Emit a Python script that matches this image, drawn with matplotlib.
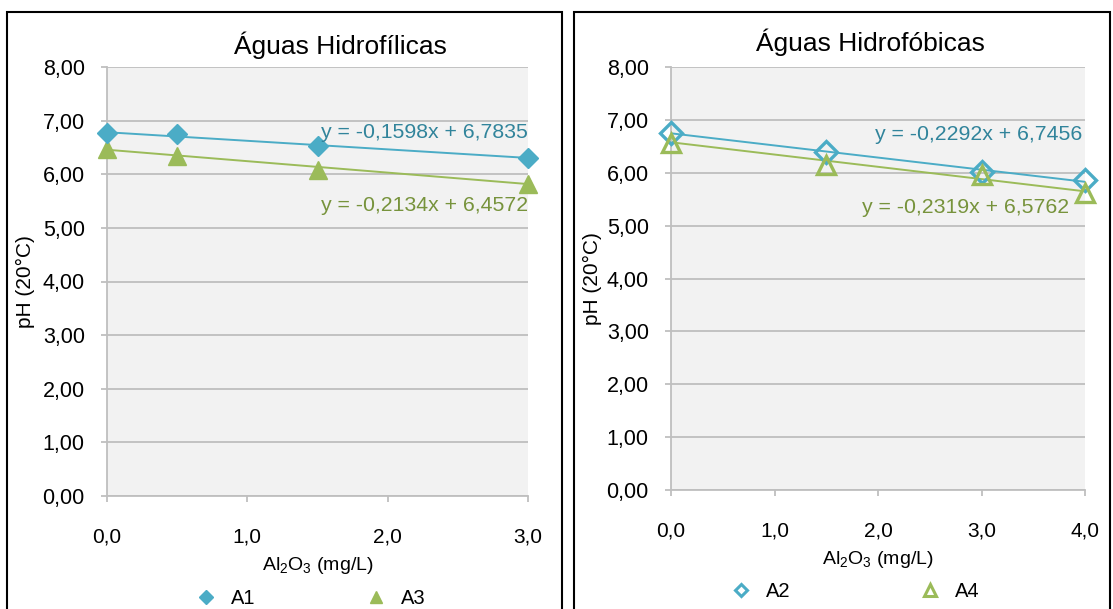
import matplotlib
matplotlib.use("Agg")
import matplotlib.pyplot as plt
from matplotlib.lines import Line2D
from matplotlib.patches import Rectangle
from matplotlib.ticker import FuncFormatter
import numpy as np

plt.rcParams["font.family"] = ["Liberation Sans", "DejaVu Sans"]
plt.rcParams["mathtext.fontset"] = "custom"
plt.rcParams["mathtext.rm"] = "Liberation Sans"
plt.rcParams["mathtext.it"] = "Liberation Sans:italic"

# data
hydrophilic_x = [0.0, 0.5, 1.5, 3.0]
a1 = [6.77, 6.75, 6.52, 6.31]
a3 = [6.47, 6.34, 6.08, 5.82]
a1_fit = (-0.1598, 6.7835)
a3_fit = (-0.2134, 6.4572)

hydrophobic_x = [0.0, 1.5, 3.0, 4.0]
a2 = [6.76, 6.39, 6.01, 5.87]
a4 = [6.57, 6.15, 5.96, 5.61]
a2_fit = (-0.2292, 6.7456)
a4_fit = (-0.2319, 6.5762)

BLUE = "#4BACC6"
GREEN = "#9BBB59"
BLUE_TXT = "#31849B"
GREEN_TXT = "#77933C"
GRID = "#BFBFBF"

W, H = 1113, 609
fig = plt.figure(figsize=(W / 100, H / 100), dpi=100)


def px_axes(x0, x1, y_top, y_bot):
    return fig.add_axes([x0 / W, 1 - y_bot / H, (x1 - x0) / W, (y_bot - y_top) / H])


def eq_text(fit):
    m, b = fit
    s = f"y = {m:.4f}x + {b:.4f}"
    return s.replace(".", ",")


def style(ax, xmax, ylabel_x):
    ax.set_facecolor("#F2F2F2")
    ax.set_xlim(0, xmax)
    ax.set_ylim(0, 8)
    ax.set_yticks(np.arange(0, 9, 1))
    ax.set_xticks(np.arange(0, xmax + 1, 1))
    ax.yaxis.set_major_formatter(FuncFormatter(lambda v, p: f"{v:.2f}".replace(".", ",")))
    ax.xaxis.set_major_formatter(FuncFormatter(lambda v, p: f"{v:.1f}".replace(".", ",")))
    ax.grid(axis="y", color=GRID, linewidth=1.3)
    ax.set_axisbelow(True)
    for s in ("top", "right"):
        ax.spines[s].set_visible(False)
    for s in ("left", "bottom"):
        ax.spines[s].set_color(GRID)
        ax.spines[s].set_linewidth(1.3)
    ax.tick_params(axis="y", length=4, color=GRID, width=1.3, pad=12, labelsize=15.5)
    ax.tick_params(axis="x", length=4, color=GRID, width=1.3, pad=19, labelsize=15)
    ax.set_xlabel(r"Al$_2$O$_3$ (mg/L)", fontsize=14, labelpad=6)
    ax.set_ylabel("pH (20°C)", fontsize=15)
    ax.yaxis.set_label_coords(ylabel_x, 0.5)


def trend(ax, fit, xmax, color):
    xs = np.array([0, xmax])
    ax.plot(xs, fit[0] * xs + fit[1], color=color, linewidth=1.4, zorder=2)


# left panel
ax1 = px_axes(107, 528, 67, 496)
style(ax1, 3, -0.17)
trend(ax1, a1_fit, 3, BLUE)
trend(ax1, a3_fit, 3, GREEN)
ax1.plot(hydrophilic_x, a3, linestyle="none", marker="^", ms=12.5, color=GREEN, clip_on=False, zorder=3)
ax1.plot(hydrophilic_x, a1, linestyle="none", marker="D", ms=10.5, color=BLUE, clip_on=False, zorder=4)
ax1.text(3.0, 6.77, eq_text(a1_fit), ha="right", va="center", fontsize=15.3, color=BLUE_TXT, zorder=5)
ax1.text(3.0, 5.41, eq_text(a3_fit), ha="right", va="center", fontsize=15.3, color=GREEN_TXT, zorder=5)
fig.text(340 / W, 1 - 45 / H, "Águas Hidrofílicas", ha="center", va="center", fontsize=19)
h1 = [Line2D([], [], linestyle="none", marker="D", ms=7, color=BLUE),
      Line2D([], [], linestyle="none", marker="^", ms=9, color=GREEN)]
ax1.legend(h1, ["A1", "A3"], loc="center", bbox_to_anchor=(0.484, -0.238), ncol=2,
           frameon=False, fontsize=14.5, handlelength=1.0, handletextpad=0.75, columnspacing=5.5)

# right panel
ax2 = px_axes(671, 1085, 67, 490)
style(ax2, 4, -0.166)
trend(ax2, a2_fit, 4, BLUE)
trend(ax2, a4_fit, 4, GREEN)
ax2.plot(hydrophobic_x, a2, linestyle="none", marker="D", ms=11.5, mfc="none", mec=BLUE, mew=2.4,
         clip_on=False, zorder=3)
ax2.plot(hydrophobic_x, a4, linestyle="none", marker="^", ms=13.5, mfc="none", mec=GREEN, mew=2.4,
         clip_on=False, zorder=4)
ax2.text(3.97, 6.73, eq_text(a2_fit), ha="right", va="center", fontsize=15.3, color=BLUE_TXT, zorder=5)
ax2.text(3.85, 5.35, eq_text(a4_fit), ha="right", va="center", fontsize=15.3, color=GREEN_TXT, zorder=5)
fig.text(870 / W, 1 - 42 / H, "Águas Hidrofóbicas", ha="center", va="center", fontsize=19)
h2 = [Line2D([], [], linestyle="none", marker="D", ms=6, mfc="none", mec=BLUE, mew=2.2),
      Line2D([], [], linestyle="none", marker="^", ms=8, mfc="none", mec=GREEN, mew=2.2)]
ax2.legend(h2, ["A2", "A4"], loc="center", bbox_to_anchor=(0.445, -0.241), ncol=2,
           frameon=False, fontsize=14.5, handlelength=1.0, handletextpad=0.75, columnspacing=6.4)

# chart area borders
for x0, x1 in ((7, 562), (574, 1110)):
    fig.add_artist(Rectangle((x0 / W, -0.05), (x1 - x0) / W, 1.05 - 12 / H,
                             transform=fig.transFigure, fill=False, edgecolor="black",
                             linewidth=1.5))

fig.savefig("out.png", dpi=100, facecolor="white")
